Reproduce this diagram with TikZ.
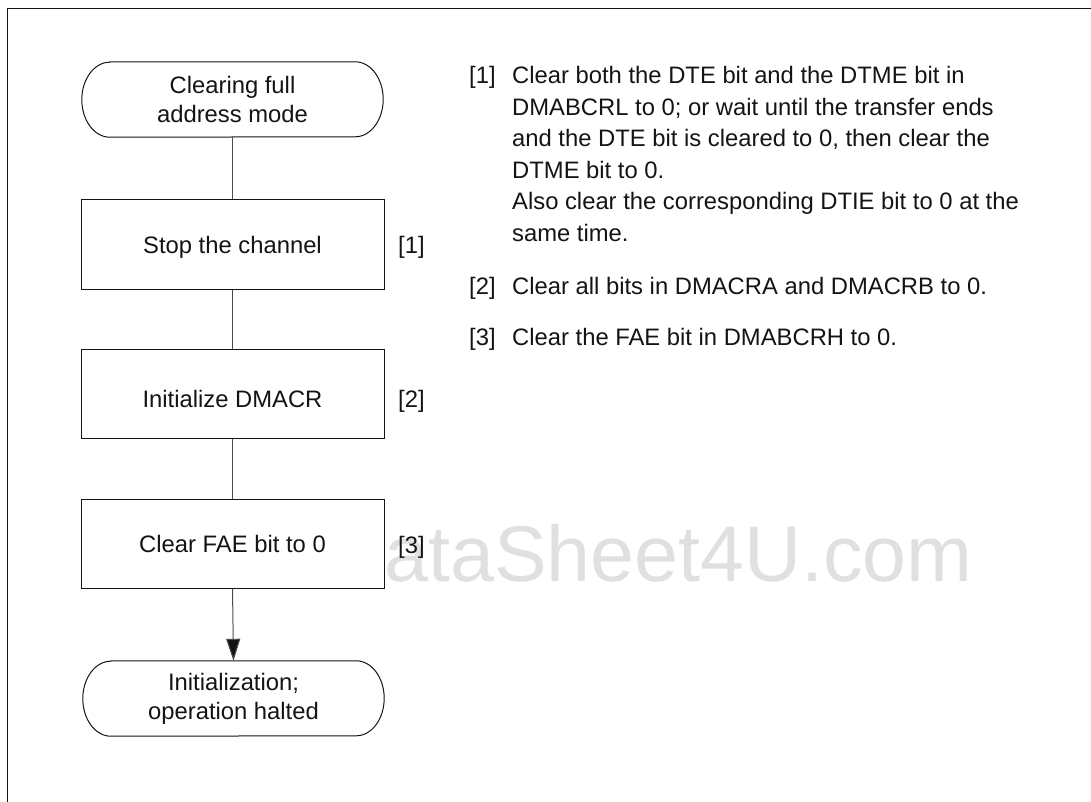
\documentclass[tikz,border=0pt]{standalone}
\usepackage{fontspec}
\setmainfont{Liberation Sans}
\usetikzlibrary{arrows.meta}
\definecolor{wm}{RGB}{224,224,224}
\definecolor{ink}{RGB}{20,20,20}
\begin{document}
\begin{tikzpicture}[x=1pt,y=-1pt,
  every node/.style={font=\fontsize{23.8}{29}\selectfont, inner sep=0pt, text=ink},
  stepbox/.style={draw=ink, line width=1pt, fill=white, minimum width=303pt, minimum height=89pt, text height=17pt, text depth=0pt},
  termbox/.style={minimum width=245pt, minimum height=75pt, align=center},
  termline/.style={draw=ink, line width=1pt, fill=white},
  conn/.style={draw=black!70, line width=1pt},
  txt/.style={anchor=base west}]
\useasboundingbox (0,0) rectangle (1091,802);
% watermark
\node[anchor=base west, text=wm, font=\fontsize{79}{79}\selectfont] (wm) at (327,581) {DataSheet4U.com};
% frame
\draw[line width=1pt, ink] (1091,9) -- (7,9) -- (7,802);
% terminals
\node[termbox] (t1) at (232.5,99.5) {};
\draw[termline] (t1.north west) -- (t1.north east) arc[start angle=90, end angle=-90, x radius=28pt, y radius=37.5pt] -- (t1.south west) arc[start angle=270, end angle=90, x radius=28pt, y radius=37.5pt] -- cycle;
\node[align=center] (t1txt) at (t1.center) {Clearing full\\address mode};
\node[termbox] (t2) at (233.5,698.5) {};
\draw[termline] (t2.north west) -- (t2.north east) arc[start angle=90, end angle=-90, x radius=28pt, y radius=37.5pt] -- (t2.south west) arc[start angle=270, end angle=90, x radius=28pt, y radius=37.5pt] -- cycle;
\node[align=center] (t2txt) at (t2.center) {Initialization;\\operation halted};
% boxes
\node[stepbox] (b1) at (232.5,244.5) {Stop the channel};
\node[stepbox, text height=27pt] (b2) at (232.5,393.8) {Initialize DMACR};
\node[stepbox] (b3) at (232.5,543.5) {Clear FAE bit to 0};
% connectors
\draw[conn] (t1.south) -- (b1.north);
\draw[conn] (b1.south) -- (b2.north);
\draw[conn] (b2.south) -- (b3.north);
\draw[conn, -{Triangle[length=22pt, width=14pt, fill=ink]}] (b3.south) -- (t2.north);
% step labels
\node[txt] (l1) at (398,253.5) {[1]};
\node[txt] (l2) at (398,407.3) {[2]};
\node[txt] (l3) at (398,553) {[3]};
% notes
\node[txt] (n1) at (469,84) {[1]};
\node[txt] (n1a) at (512,84) {Clear both the DTE bit and the DTME bit in};
\node[txt] (n1b) at (512,115.5) {DMABCRL to 0; or wait until the transfer ends};
\node[txt] (n1c) at (512,147) {and the DTE bit is cleared to 0, then clear the};
\node[txt] (n1d) at (512,178.5) {DTME bit to 0.};
\node[txt] (n1e) at (512,210) {Also clear the corresponding DTIE bit to 0 at the};
\node[txt] (n1f) at (512,241.5) {same time.};
\node[txt] (n2) at (469,294.5) {[2]};
\node[txt] (n2a) at (512,294.5) {Clear all bits in DMACRA and DMACRB to 0.};
\node[txt] (n3) at (469,345.5) {[3]};
\node[txt] (n3a) at (512,345.5) {Clear the FAE bit in DMABCRH to 0.};
\end{tikzpicture}
\end{document}
